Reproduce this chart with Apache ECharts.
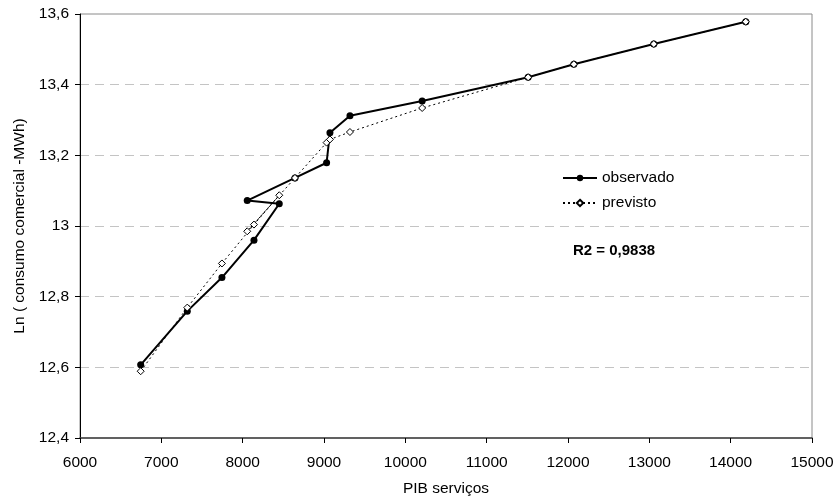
<!DOCTYPE html>
<html>
<head>
<meta charset="utf-8">
<script src="https://cdn.jsdelivr.net/npm/echarts@6/dist/echarts.min.js"></script>
<style>
html,body{margin:0;padding:0;background:#fff;}
#c{width:834px;height:497px;}
</style>
</head>
<body>
<div id="c"></div>
<script>
// Data (in time order)
const pibServicos = [6746, 7319, 7745, 8139, 8450, 8056, 8643, 9032, 9073, 9319, 10207, 11510, 12072, 13055, 14186];
const observado   = [12.607, 12.759, 12.854, 12.960, 13.063, 13.072, 13.136, 13.179, 13.264, 13.312, 13.354, 13.421, 13.458, 13.515, 13.578];
const previsto    = [12.589, 12.769, 12.894, 13.004, 13.087, 12.985, 13.136, 13.236, 13.245, 13.266, 13.334, 13.421, 13.458, 13.515, 13.578];
const seriesNames = ['observado', 'previsto'];
const r2Label = 'R2 = 0,9838';
const xName = 'PIB serviços';
const yName = 'Ln ( consumo comercial -MWh)';

const FONT = '"Liberation Sans", Arial, sans-serif';
const FS = 15.5;
const chart = echarts.init(document.getElementById('c'), null, {renderer: 'canvas'});

chart.setOption({
  animation: false,
  backgroundColor: '#fff',
  grid: {left: 80, right: 22, top: 14, bottom: 59, show: true, borderColor: '#8a8a8a', borderWidth: 1,
         containLabel: false, outerBoundsMode: 'none'},
  legend: {
    orient: 'vertical', left: 557, top: 165, itemWidth: 34, itemHeight: 8, itemGap: 9,
    textStyle: {fontFamily: FONT, fontSize: FS, color: '#000'},
    data: seriesNames
  },
  graphic: [{
    type: 'text', left: 573, top: 243,
    style: {text: r2Label, font: 'bold 15px ' + FONT, fill: '#000'}
  }],
  xAxis: {
    type: 'value', min: 6000, max: 15000, interval: 1000,
    name: xName, nameLocation: 'middle', nameGap: 43,
    nameTextStyle: {fontFamily: FONT, fontSize: FS, color: '#000'},
    axisLine: {onZero: false, lineStyle: {color: '#404040', width: 1.5}},
    axisTick: {show: true, length: 5, lineStyle: {color: '#000'}},
    axisLabel: {fontFamily: FONT, fontSize: FS, color: '#000', margin: 17, formatter: v => String(v)},
    splitLine: {show: false}
  },
  yAxis: {
    type: 'value', min: 12.4, max: 13.6, interval: 0.2,
    name: yName, nameLocation: 'middle', nameGap: 52,
    nameTextStyle: {fontFamily: FONT, fontSize: FS, color: '#000'},
    axisLine: {show: true, onZero: false, lineStyle: {color: '#000', width: 1}},
    axisTick: {show: true, length: 5, lineStyle: {color: '#000'}},
    axisLabel: {
      fontFamily: FONT, fontSize: FS, color: '#000', margin: 11,
      formatter: v => String(Math.round(v * 10) / 10).replace('.', ',')
    },
    splitLine: {show: true, lineStyle: {color: '#c4c4c4', type: [9, 6], width: 1}}
  },
  series: [
    {
      name: seriesNames[0], type: 'line',
      data: pibServicos.map((x, i) => [x, observado[i]]),
      symbol: 'circle', symbolSize: 7,
      lineStyle: {color: '#000', width: 2},
      itemStyle: {color: '#000'},
      z: 2
    },
    {
      name: seriesNames[1], type: 'line',
      data: pibServicos.map((x, i) => [x, previsto[i]]),
      symbol: 'diamond', symbolSize: 7,
      lineStyle: {color: '#000', width: 1, type: [2, 3]},
      itemStyle: {color: '#fff', borderColor: '#000', borderWidth: 1},
      z: 3
    }
  ]
});
</script>
</body>
</html>
